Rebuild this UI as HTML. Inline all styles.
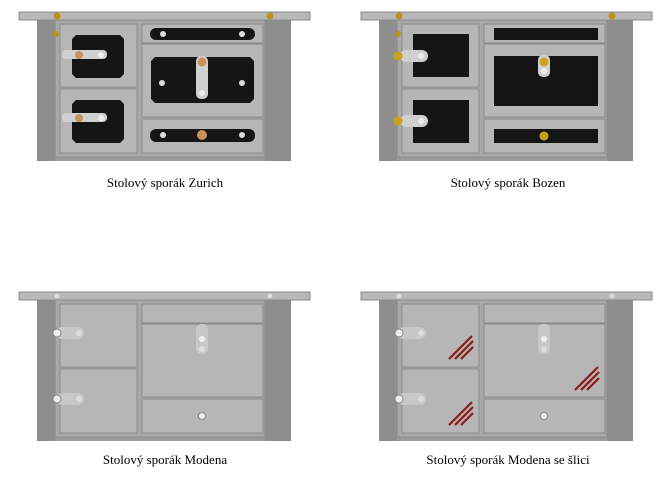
<!DOCTYPE html>
<html><head><meta charset="utf-8"><style>
html,body{margin:0;padding:0;background:#fff;width:662px;height:488px;overflow:hidden}
</style></head><body>
<svg width="662" height="488" viewBox="0 0 662 488" xmlns="http://www.w3.org/2000/svg">
<defs>
<g id="base">
  <rect x="37" y="20" width="254" height="141" fill="#9c9c9c"/>
  <rect x="37" y="20" width="18" height="141" fill="#8e8e8e"/>
  <rect x="265" y="20" width="26" height="141" fill="#8e8e8e"/>
  <rect x="55" y="20" width="210" height="137" fill="#a8a8a8" stroke="#8a8a8a" stroke-width="1"/>
  <rect x="60" y="24" width="77" height="63" fill="#b6b6b6" stroke="#8a8a8a"/>
  <rect x="60" y="89" width="77" height="64" fill="#b6b6b6" stroke="#8a8a8a"/>
  <rect x="142" y="24" width="121" height="19" fill="#b6b6b6" stroke="#8a8a8a"/>
  <rect x="142" y="44" width="121" height="73" fill="#b6b6b6" stroke="#8a8a8a"/>
  <rect x="142" y="119" width="121" height="34" fill="#b6b6b6" stroke="#8a8a8a"/>
  <rect x="19" y="12" width="291" height="8" fill="#b8b8b8" stroke="#8a8a8a"/>
</g>
</defs>

<!-- Zurich -->
<use href="#base"/>
<circle cx="57" cy="16" r="3.5" fill="#b8941c"/><circle cx="270" cy="16" r="3.5" fill="#b8941c"/>
<circle cx="56" cy="34" r="3" fill="#b8941c"/>
<path d="M76,35 h44 l4,4 v35 l-4,4 h-44 l-4,-4 v-35z" fill="#151515"/>
<path d="M76,100 h44 l4,4 v35 l-4,4 h-44 l-4,-4 v-35z" fill="#151515"/>
<rect x="62" y="50" width="45" height="9" rx="4" fill="#d0d0d0"/>
<circle cx="79" cy="55" r="4" fill="#c8925a"/><circle cx="101" cy="55" r="3" fill="#eee"/>
<rect x="62" y="113" width="45" height="9" rx="4" fill="#d0d0d0"/>
<circle cx="79" cy="118" r="4" fill="#c8925a"/><circle cx="101" cy="118" r="3" fill="#eee"/>
<rect x="150" y="28" width="105" height="12" rx="6" fill="#151515"/>
<circle cx="163" cy="34" r="3" fill="#ddd"/><circle cx="242" cy="34" r="3" fill="#ddd"/>
<path d="M155,57 h95 l4,4 v38 l-4,4 h-95 l-4,-4 v-38z" fill="#151515"/>
<circle cx="162" cy="83" r="3" fill="#ddd"/><circle cx="242" cy="83" r="3" fill="#ddd"/>
<rect x="196" y="56" width="12" height="43" rx="5" fill="#d0d0d0"/>
<circle cx="202" cy="62" r="4.5" fill="#c8925a"/><circle cx="202" cy="93" r="3" fill="#eee"/>
<rect x="150" y="129" width="105" height="13" rx="6" fill="#151515"/>
<circle cx="163" cy="135" r="3" fill="#ddd"/><circle cx="242" cy="135" r="3" fill="#ddd"/>
<circle cx="202" cy="135" r="5" fill="#c8925a"/>

<!-- Bozen -->
<g transform="translate(342,0)">
<use href="#base"/>
<circle cx="57" cy="16" r="3.5" fill="#b8941c"/><circle cx="270" cy="16" r="3.5" fill="#b8941c"/>
<circle cx="56" cy="34" r="3" fill="#b8941c"/>
<rect x="71" y="34" width="56" height="43" fill="#151515"/>
<rect x="71" y="100" width="56" height="43" fill="#151515"/>
<rect x="58" y="50" width="28" height="12" rx="6" fill="#d0d0d0"/><circle cx="56" cy="56" r="4.5" fill="#c9a11c"/><circle cx="79" cy="56" r="3" fill="#eee"/>
<rect x="58" y="115" width="28" height="12" rx="6" fill="#d0d0d0"/><circle cx="56" cy="121" r="4.5" fill="#c9a11c"/><circle cx="79" cy="121" r="3" fill="#eee"/>
<rect x="152" y="28" width="104" height="12" fill="#151515"/>
<rect x="152" y="56" width="104" height="50" fill="#151515"/>
<rect x="196" y="55" width="12" height="22" rx="5" fill="#d0d0d0"/><circle cx="202" cy="62" r="4.5" fill="#c9a11c"/><circle cx="202" cy="71" r="3" fill="#eee"/>
<rect x="152" y="129" width="104" height="14" fill="#151515"/>
<circle cx="202" cy="136" r="4.5" fill="#c9a11c"/>
</g>

<!-- Modena -->
<g transform="translate(0,280)">
<use href="#base"/>
<circle cx="57" cy="16" r="2.5" fill="#ddd"/><circle cx="270" cy="16" r="2.5" fill="#ddd"/>
<rect x="56" y="47" width="28" height="12" rx="6" fill="#c8c8c8"/><circle cx="57" cy="53" r="4" fill="#eee" stroke="#888"/><circle cx="79" cy="53" r="3" fill="#ddd"/>
<rect x="56" y="113" width="28" height="12" rx="6" fill="#c8c8c8"/><circle cx="57" cy="119" r="4" fill="#eee" stroke="#888"/><circle cx="79" cy="119" r="3" fill="#ddd"/>
<rect x="196" y="44" width="12" height="30" rx="5" fill="#c8c8c8"/><circle cx="202" cy="59" r="3" fill="#eee"/><circle cx="202" cy="69" r="3" fill="#ddd"/>
<circle cx="202" cy="136" r="3.5" fill="#eee" stroke="#888"/>
</g>

<!-- Modena se slici -->
<g transform="translate(342,280)">
<use href="#base"/>
<circle cx="57" cy="16" r="2.5" fill="#ddd"/><circle cx="270" cy="16" r="2.5" fill="#ddd"/>
<rect x="56" y="47" width="28" height="12" rx="6" fill="#c8c8c8"/><circle cx="57" cy="53" r="4" fill="#eee" stroke="#888"/><circle cx="79" cy="53" r="3" fill="#ddd"/>
<rect x="56" y="113" width="28" height="12" rx="6" fill="#c8c8c8"/><circle cx="57" cy="119" r="4" fill="#eee" stroke="#888"/><circle cx="79" cy="119" r="3" fill="#ddd"/>
<rect x="196" y="44" width="12" height="30" rx="5" fill="#c8c8c8"/><circle cx="202" cy="59" r="3" fill="#eee"/><circle cx="202" cy="69" r="3" fill="#ddd"/>
<circle cx="202" cy="136" r="3.5" fill="#eee" stroke="#888"/>
<g stroke="#8a1a1a" stroke-width="2.2">
<line x1="107" y1="79" x2="130" y2="56"/><line x1="113" y1="79" x2="131" y2="61"/><line x1="119" y1="79" x2="131" y2="67"/>
<line x1="107" y1="145" x2="130" y2="122"/><line x1="113" y1="145" x2="131" y2="127"/><line x1="119" y1="145" x2="131" y2="133"/>
<line x1="233" y1="110" x2="256" y2="87"/><line x1="239" y1="110" x2="257" y2="92"/><line x1="245" y1="110" x2="257" y2="98"/>
</g>
</g>

<g font-family="Liberation Serif, serif" font-size="13" fill="#000" text-anchor="middle">
<text x="165" y="187">Stolový sporák Zurich</text>
<text x="508" y="187">Stolový sporák Bozen</text>
<text x="165" y="464">Stolový sporák Modena</text>
<text x="508" y="464">Stolový sporák Modena se šlici</text>
</g>
</svg>
</body></html>
